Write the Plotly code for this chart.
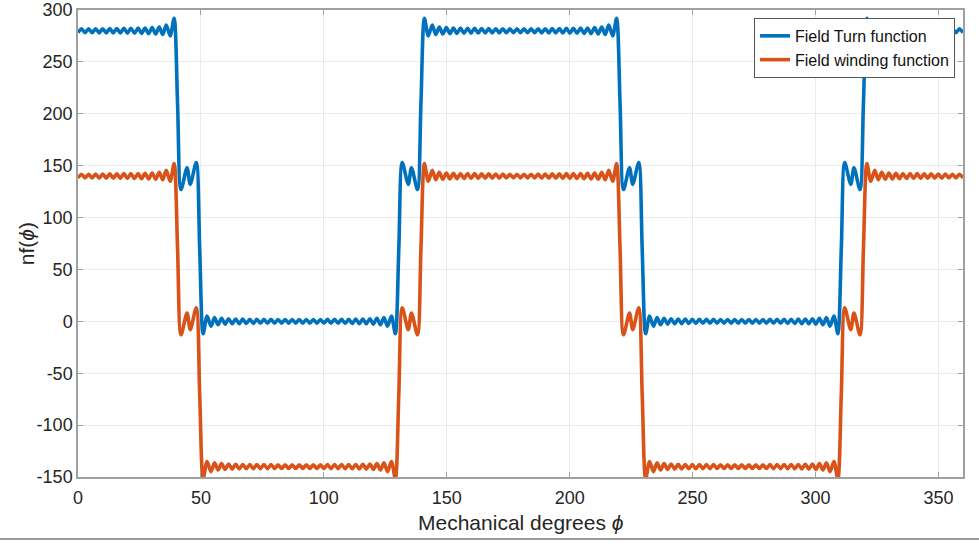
import plotly.graph_objects as go

# Mechanical angle (degrees) at each read-off point (ripple extremes and edge points)
phi_deg = [
    0, 1.44, 2.87, 4.31, 5.74, 7.18, 8.62, 10.05, 11.49, 12.92, 14.36, 15.80, 17.23, 18.67, 20.10,
    21.54, 22.98, 24.41, 25.85, 27.28, 28.72, 30.16, 31.59, 33.03, 34.46, 35.90,
    37.5, 39.1, 40.5, 41.9, 44.35, 45.65, 48.1, 49.5, 50.9, 52.5,
    54.10, 55.54, 56.97, 58.41, 59.84, 61.28, 62.72, 64.15, 65.59, 67.02, 68.46, 69.90, 71.33,
    72.77, 74.20, 75.64, 77.08, 78.51, 79.95, 81.38, 82.82, 84.26, 85.69, 87.13, 88.56, 90.00,
    91.44, 92.87, 94.31, 95.74, 97.18, 98.62, 100.05, 101.49, 102.92, 104.36, 105.80, 107.23,
    108.67, 110.10, 111.54, 112.98, 114.41, 115.85, 117.28, 118.72, 120.16, 121.59, 123.03,
    124.46, 125.90,
    127.5, 129.1, 130.5, 131.9, 134.35, 135.65, 138.1, 139.5, 140.9, 142.5,
    144.10, 145.54, 146.97, 148.41, 149.84, 151.28, 152.72, 154.15, 155.59, 157.02, 158.46,
    159.90, 161.33, 162.77, 164.20, 165.64, 167.08, 168.51, 169.95, 171.38, 172.82, 174.26,
    175.69, 177.13, 178.56,
    180, 181.44, 182.87, 184.31, 185.74, 187.18, 188.62, 190.05, 191.49, 192.92, 194.36, 195.80,
    197.23, 198.67, 200.10, 201.54, 202.98, 204.41, 205.85, 207.28, 208.72, 210.16, 211.59,
    213.03, 214.46, 215.90,
    217.5, 219.1, 220.5, 221.9, 224.35, 225.65, 228.1, 229.5, 230.9, 232.5,
    234.10, 235.54, 236.97, 238.41, 239.84, 241.28, 242.72, 244.15, 245.59, 247.02, 248.46,
    249.90, 251.33, 252.77, 254.20, 255.64, 257.08, 258.51, 259.95, 261.38, 262.82, 264.26,
    265.69, 267.13, 268.56, 270.00, 271.44, 272.87, 274.31, 275.74, 277.18, 278.62, 280.05,
    281.49, 282.92, 284.36, 285.80, 287.23, 288.67, 290.10, 291.54, 292.98, 294.41, 295.85,
    297.28, 298.72, 300.16, 301.59, 303.03, 304.46, 305.90,
    307.5, 309.1, 310.5, 311.9, 314.35, 315.65, 318.1, 319.5, 320.9, 322.5,
    324.10, 325.54, 326.97, 328.41, 329.84, 331.28, 332.72, 334.15, 335.59, 337.02, 338.46,
    339.90, 341.33, 342.77, 344.20, 345.64, 347.08, 348.51, 349.95, 351.38, 352.82, 354.26,
    355.69, 357.13, 358.56, 360,
]

# Field turn function (blue)
turn_function = [
    278.2, 281.8, 278.2, 281.8, 278.1, 281.9, 278.0, 282.0, 278.0, 282.1, 277.9, 282.2, 277.8,
    282.3, 277.7, 282.4, 277.6, 282.5, 277.4, 282.7, 277.2, 283.0, 276.9, 283.5, 276.4, 285.5,
    275, 292, 210, 127, 148, 132, 153, 70, -12, 5,
    -4.8, 3.6, -3.2, 3.0, -2.7, 2.5, -2.4, 2.3, -2.2, 2.1, -2.1, 2.0, -2.0, 2.0, -1.9, 1.9,
    -1.9, 1.9, -1.8, 1.8, -1.8, 1.8, -1.8, 1.8, -1.8, 1.8, -1.8, 1.8, -1.8, 1.8, -1.8, 1.8,
    -1.8, 1.9, -1.9, 1.9, -1.9, 2.0, -2.0, 2.0, -2.1, 2.1, -2.2, 2.3, -2.4, 2.5, -2.7, 3.0,
    -3.2, 3.6, -4.8,
    5, -12, 70, 153, 132, 148, 127, 210, 292, 275,
    285.5, 276.4, 283.5, 276.9, 283.0, 277.2, 282.7, 277.4, 282.5, 277.6, 282.4, 277.7, 282.3,
    277.8, 282.2, 277.9, 282.1, 278.0, 282.0, 278.0, 281.9, 278.1, 281.8, 278.2, 281.8,
    278.2, 281.8, 278.2, 281.8, 278.1, 281.9, 278.0, 282.0, 278.0, 282.1, 277.9, 282.2, 277.8,
    282.3, 277.7, 282.4, 277.6, 282.5, 277.4, 282.7, 277.2, 283.0, 276.9, 283.5, 276.4, 285.5,
    275, 292, 210, 127, 148, 132, 153, 70, -12, 5,
    -4.8, 3.6, -3.2, 3.0, -2.7, 2.5, -2.4, 2.3, -2.2, 2.1, -2.1, 2.0, -2.0, 2.0, -1.9, 1.9,
    -1.9, 1.9, -1.8, 1.8, -1.8, 1.8, -1.8, 1.8, -1.8, 1.8, -1.8, 1.8, -1.8, 1.8, -1.8, 1.8,
    -1.8, 1.9, -1.9, 1.9, -1.9, 2.0, -2.0, 2.0, -2.1, 2.1, -2.2, 2.3, -2.4, 2.5, -2.7, 3.0,
    -3.2, 3.6, -4.8,
    5, -12, 70, 153, 132, 148, 127, 210, 292, 275,
    285.5, 276.4, 283.5, 276.9, 283.0, 277.2, 282.7, 277.4, 282.5, 277.6, 282.4, 277.7, 282.3,
    277.8, 282.2, 277.9, 282.1, 278.0, 282.0, 278.0, 281.9, 278.1, 281.8, 278.2, 281.8, 278.2,
]

# Field winding function (orange)
winding_function = [
    138.2, 141.8, 138.2, 141.8, 138.1, 141.9, 138.0, 142.0, 138.0, 142.1, 137.9, 142.2, 137.8,
    142.3, 137.7, 142.4, 137.6, 142.5, 137.4, 142.7, 137.2, 143.0, 136.9, 143.5, 136.4, 145.5,
    135, 152, 70, -13, 8, -8, 13, -70, -152, -135,
    -144.8, -136.4, -143.2, -137.0, -142.7, -137.5, -142.4, -137.7, -142.2, -137.9, -142.1,
    -138.0, -142.0, -138.0, -141.9, -138.1, -141.9, -138.1, -141.8, -138.2, -141.8, -138.2,
    -141.8, -138.2, -141.8, -138.2, -141.8, -138.2, -141.8, -138.2, -141.8, -138.2, -141.8,
    -138.1, -141.9, -138.1, -141.9, -138.0, -142.0, -138.0, -142.1, -137.9, -142.2, -137.7,
    -142.4, -137.5, -142.7, -137.0, -143.2, -136.4, -144.8,
    -135, -152, -70, 13, -8, 8, -13, 70, 152, 135,
    145.5, 136.4, 143.5, 136.9, 143.0, 137.2, 142.7, 137.4, 142.5, 137.6, 142.4, 137.7, 142.3,
    137.8, 142.2, 137.9, 142.1, 138.0, 142.0, 138.0, 141.9, 138.1, 141.8, 138.2, 141.8,
    138.2, 141.8, 138.2, 141.8, 138.1, 141.9, 138.0, 142.0, 138.0, 142.1, 137.9, 142.2, 137.8,
    142.3, 137.7, 142.4, 137.6, 142.5, 137.4, 142.7, 137.2, 143.0, 136.9, 143.5, 136.4, 145.5,
    135, 152, 70, -13, 8, -8, 13, -70, -152, -135,
    -144.8, -136.4, -143.2, -137.0, -142.7, -137.5, -142.4, -137.7, -142.2, -137.9, -142.1,
    -138.0, -142.0, -138.0, -141.9, -138.1, -141.9, -138.1, -141.8, -138.2, -141.8, -138.2,
    -141.8, -138.2, -141.8, -138.2, -141.8, -138.2, -141.8, -138.2, -141.8, -138.2, -141.8,
    -138.1, -141.9, -138.1, -141.9, -138.0, -142.0, -138.0, -142.1, -137.9, -142.2, -137.7,
    -142.4, -137.5, -142.7, -137.0, -143.2, -136.4, -144.8,
    -135, -152, -70, 13, -8, 8, -13, 70, 152, 135,
    145.5, 136.4, 143.5, 136.9, 143.0, 137.2, 142.7, 137.4, 142.5, 137.6, 142.4, 137.7, 142.3,
    137.8, 142.2, 137.9, 142.1, 138.0, 142.0, 138.0, 141.9, 138.1, 141.8, 138.2, 141.8, 138.2,
]

series_names = ["Field Turn function", "Field winding function"]
x_ticks = [0, 50, 100, 150, 200, 250, 300, 350]
x_tick_labels = ["0", "50", "100", "150", "200", "250", "300", "350"]
y_ticks = [-150, -100, -50, 0, 50, 100, 150, 200, 250, 300]
y_tick_labels = ["-150", "-100", "-50", "0", "50", "100", "150", "200", "250", "300"]
x_title = "Mechanical degrees <i>ϕ</i>"
y_title = "nf(<i>ϕ</i>)"

assert len(phi_deg) == len(turn_function) == len(winding_function)

FONT = "Liberation Sans, Arial, Helvetica, sans-serif"
TXT = "#262626"
AX = "#a0a0a0"

fig = go.Figure()
fig.add_trace(go.Scatter(x=phi_deg, y=turn_function, mode="lines", name=series_names[0],
                         line=dict(color="#0072BD", width=3.6, shape="spline", smoothing=0.8)))
fig.add_trace(go.Scatter(x=phi_deg, y=winding_function, mode="lines", name=series_names[1],
                         line=dict(color="#D95319", width=3.6, shape="spline", smoothing=0.8)))

axis_common = dict(
    showline=True, linecolor=AX, linewidth=1.5, mirror="ticks",
    ticks="inside", ticklen=5, tickcolor=AX, tickwidth=1,
    showgrid=True, gridcolor="#ebebeb", gridwidth=1, zeroline=False,
    automargin=False,
    tickfont=dict(family=FONT, size=18, color=TXT),
)

fig.update_layout(
    width=979, height=544,
    margin=dict(l=78, r=16, t=10, b=67),
    paper_bgcolor="white", plot_bgcolor="white",
    font=dict(family=FONT, color=TXT),
    xaxis=dict(range=[0, 360], tickvals=x_ticks, ticktext=x_tick_labels,
               ticklabelstandoff=4, **axis_common),
    yaxis=dict(range=[-150, 300], tickvals=y_ticks, ticktext=y_tick_labels,
               **axis_common),
    legend=dict(x=0.991, y=0.983, xanchor="right", yanchor="top",
                bgcolor="white", bordercolor="#555555", borderwidth=1,
                font=dict(family=FONT, size=16, color="#111111"),
                itemwidth=30, tracegroupgap=0),
    showlegend=True,
)

# axis titles
fig.add_annotation(text=x_title, xref="paper", yref="paper", x=0.5, y=-0.097,
                   xanchor="center", yanchor="middle", showarrow=False,
                   font=dict(family=FONT, size=21, color=TXT))
fig.add_annotation(text=y_title, xref="paper", yref="paper", x=-0.058, y=0.5,
                   xanchor="center", yanchor="middle", showarrow=False, textangle=-90,
                   font=dict(family=FONT, size=21, color=TXT))

fig.add_shape(type="line", xref="paper", yref="paper",
              x0=-0.1, x1=1.1, y0=-0.133, y1=-0.133,
              line=dict(color="#9a9a9a", width=2))

fig.write_html("out.html", config={"displayModeBar": False},
               post_script="document.body.style.margin='0px';")
